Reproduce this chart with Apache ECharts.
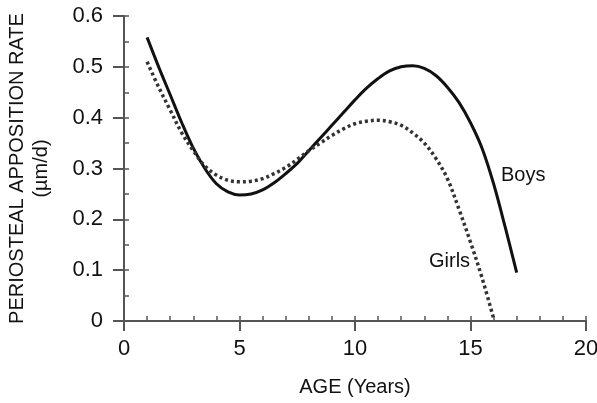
<!DOCTYPE html>
<html>
<head>
<meta charset="utf-8">
<script src="https://cdn.jsdelivr.net/npm/echarts@6/dist/echarts.min.js"></script>
<style>html,body{margin:0;padding:0;background:#fff}#c{width:597px;height:403px}</style>
</head>
<body>
<div id="c"></div>
<script>
const ages = [1,1.5,2,2.5,3,3.5,4,4.5,5,5.5,6,6.5,7,7.5,8,8.5,9,9.5,10,10.5,11,11.5,12,12.5,13,13.5,14,14.5,15,15.5,16,16.5,17];
const boys = [0.558,0.50,0.445,0.39,0.34,0.30,0.27,0.254,0.248,0.25,0.258,0.272,0.29,0.31,0.335,0.36,0.385,0.41,0.435,0.458,0.477,0.492,0.50,0.502,0.497,0.483,0.46,0.43,0.39,0.34,0.27,0.185,0.095];
const girlAges = [1,1.5,2,2.5,3,3.5,4,4.5,5,5.5,6,6.5,7,7.5,8,8.5,9,9.5,10,10.5,11,11.5,12,12.5,13,13.5,14,14.5,15,15.5,16];
const girls = [0.51,0.46,0.415,0.37,0.335,0.305,0.287,0.277,0.274,0.275,0.28,0.29,0.302,0.318,0.335,0.35,0.365,0.378,0.388,0.393,0.395,0.392,0.385,0.37,0.35,0.32,0.28,0.22,0.155,0.085,0.005];
const xTicks = [0,5,10,15,20];
const yTicks = [0,0.1,0.2,0.3,0.4,0.5,0.6];

const chart = echarts.init(document.getElementById('c'));
const font = '"Liberation Sans", Arial, sans-serif';
const axisCol = '#555';
chart.setOption({
  animation:false,
  grid:{left:124,right:11,top:16,bottom:82,outerBoundsMode:'none',containLabel:false},
  xAxis:[{
    type:'value',min:0,max:20,interval:5,
    name:'AGE (Years)',nameLocation:'middle',nameGap:56,
    nameTextStyle:{fontFamily:font,fontSize:20,color:'#111'},
    axisLine:{show:true,lineStyle:{color:axisCol,width:2}},
    axisTick:{show:true,length:10,lineStyle:{color:axisCol,width:2}},
    axisLabel:{fontFamily:font,fontSize:22,color:'#111',margin:17,
      formatter:v=>xTicks.includes(v)?String(v):''},
    splitLine:{show:false}
  },{
    type:'value',min:0,max:20,interval:1,position:'bottom',
    axisLine:{show:false},
    axisTick:{show:true,inside:true,length:5,lineStyle:{color:axisCol,width:1.5}},
    axisLabel:{show:false},splitLine:{show:false}
  }],
  yAxis:[{
    type:'value',min:0,max:0.6,interval:0.1,
    name:'PERIOSTEAL APPOSITION RATE\n(µm/d)',nameLocation:'middle',nameGap:71,nameRotate:90,
    nameTextStyle:{fontFamily:font,fontSize:20,color:'#111',lineHeight:24,align:'center'},
    axisLine:{show:true,lineStyle:{color:axisCol,width:2}},
    axisTick:{show:true,length:11,lineStyle:{color:axisCol,width:2}},
    axisLabel:{fontFamily:font,fontSize:22,color:'#111',margin:21,
      formatter:v=>{const r=Math.round(v*10)/10;return yTicks.includes(r)?(r===0?'0':r.toFixed(1)):'';}},
    splitLine:{show:false}
  },{
    type:'value',min:0,max:0.6,interval:0.05,position:'left',
    axisLine:{show:false},
    axisTick:{show:true,inside:true,length:5,lineStyle:{color:axisCol,width:1.5}},
    axisLabel:{show:false},splitLine:{show:false}
  }],
  series:[{
    name:'Boys',type:'line',smooth:0.35,showSymbol:false,
    data:ages.map((a,i)=>[a,boys[i]]),
    lineStyle:{color:'#111',width:3}
  },{
    name:'Girls',type:'line',smooth:0.35,showSymbol:false,
    data:girlAges.map((a,i)=>[a,girls[i]]),
    lineStyle:{color:'#333',width:3.5,type:[3,3]}
  }],
  graphic:[
    {type:'text',left:501,top:165,style:{text:'Boys',font:'20px '+font,fill:'#111'}},
    {type:'text',left:429,top:251,style:{text:'Girls',font:'20px '+font,fill:'#111'}}
  ]
});
</script>
</body>
</html>
